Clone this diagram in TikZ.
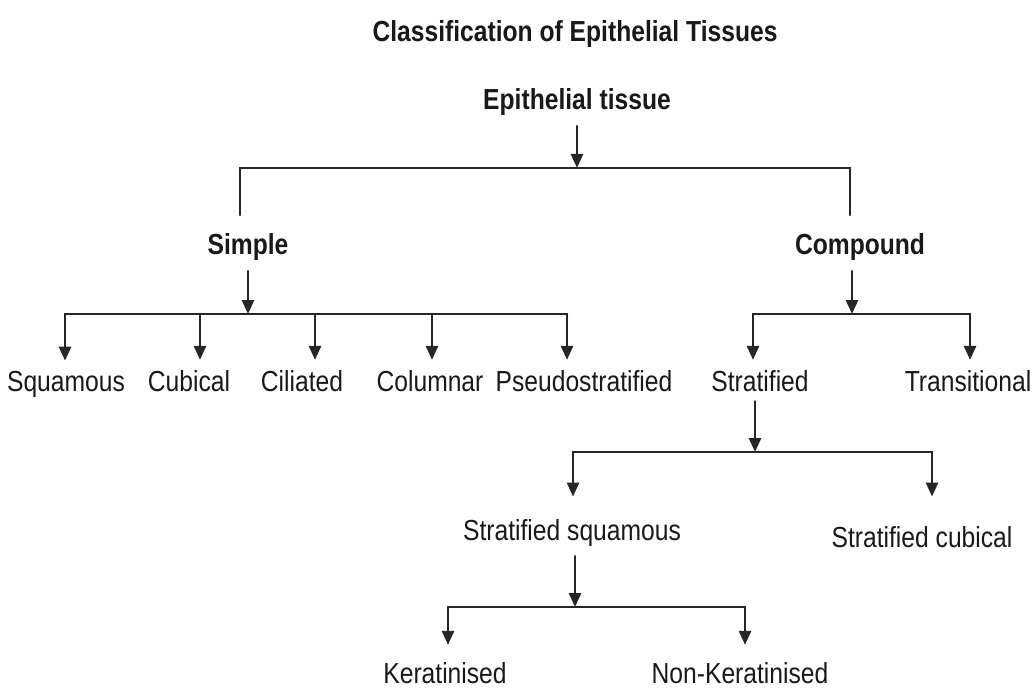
\documentclass[tikz,border=0pt]{standalone}
\usepackage{fontspec}
\setmainfont{Liberation Sans}[FakeStretch=0.85]
\usetikzlibrary{arrows.meta}

\begin{document}
\begin{tikzpicture}[x=0.02cm,y=-0.02cm,>={Triangle[length=2.8mm,width=2.4mm]},
  line width=1.5pt,line cap=round,draw=black!85,
  every node/.style={font=\fontsize{16.5}{19}\selectfont,anchor=base,inner sep=5pt,text=black!90},
  head/.style={font=\fontsize{16.5}{19}\selectfont\bfseries}]
\useasboundingbox (0,0) rectangle (1033,695);
% headings
\node[head] (title) at (575,42) {Classification of Epithelial Tissues};
\node[head] (epi) at (577,110) {Epithelial tissue};
\node[head] (simple) at (248,255) {Simple};
\node[head] (compound) at (860,255) {Compound};
% first level
\coordinate (epi-bar) at (577,168);
\coordinate (epi-l) at (240,168);
\coordinate (epi-r) at (850,168);
\coordinate (simple-in) at (240,215);
\coordinate (compound-in) at (850,215);
\draw[->] (epi) -- (epi-bar);
\draw (epi-l) -- (epi-r);
\draw (epi-l) -- (simple-in);
\draw (epi-r) -- (compound-in);
% simple
\node (squamous) at (66,391) {Squamous};
\node (cubical) at (189,391) {Cubical};
\node (ciliated) at (302,391) {Ciliated};
\node (columnar) at (430,391) {Columnar};
\node (pseudo) at (584,391) {Pseudostratified};
\coordinate (simple-bar) at (248,314);
\coordinate (s1) at (65,314);
\coordinate (s2) at (200,314);
\coordinate (s3) at (315,314);
\coordinate (s4) at (432,314);
\coordinate (s5) at (567,314);
\draw[->] (simple) -- (simple-bar);
\draw (s1) -- (s5);
\draw[->] (s1) -- (s1 |- squamous.north);
\draw[->] (s2) -- (s2 |- cubical.north);
\draw[->] (s3) -- (s3 |- ciliated.north);
\draw[->] (s4) -- (s4 |- columnar.north);
\draw[->] (s5) -- (s5 |- pseudo.north);
% compound
\node (stratified) at (760,391) {Stratified};
\node (transitional) at (968,391) {Transitional};
\coordinate (compound-bar) at (852,314);
\coordinate (c1) at (753,314);
\coordinate (c2) at (970,314);
\draw[->] (compound.south -| compound-bar) -- (compound-bar);
\draw (c1) -- (c2);
\draw[->] (c1) -- (c1 |- stratified.north);
\draw[->] (c2) -- (c2 |- transitional.north);
% stratified
\node (strat-sq) at (572,540) {Stratified squamous};
\node (strat-cu) at (922,547) {Stratified cubical};
\coordinate (strat-bar) at (755,452);
\coordinate (t1) at (573,452);
\coordinate (t2) at (932,452);
\draw[->] (stratified.south -| strat-bar) -- (strat-bar);
\draw (t1) -- (t2);
\draw[->,shorten >=7pt] (t1) -- (t1 |- strat-sq.north);
\draw[->,shorten >=11pt] (t2) -- (t2 |- strat-cu.north);
% stratified squamous
\node (kera) at (445,683) {Keratinised};
\node (nonkera) at (740,683) {Non-Keratinised};
\coordinate (sq-bar) at (575,607);
\coordinate (k1) at (448,607);
\coordinate (k2) at (745,607);
\draw[->] (strat-sq.south -| sq-bar) -- (sq-bar);
\draw (k1) -- (k2);
\draw[->,shorten >=4pt] (k1) -- (k1 |- kera.north);
\draw[->,shorten >=4pt] (k2) -- (k2 |- nonkera.north);
\end{tikzpicture}
\end{document}
